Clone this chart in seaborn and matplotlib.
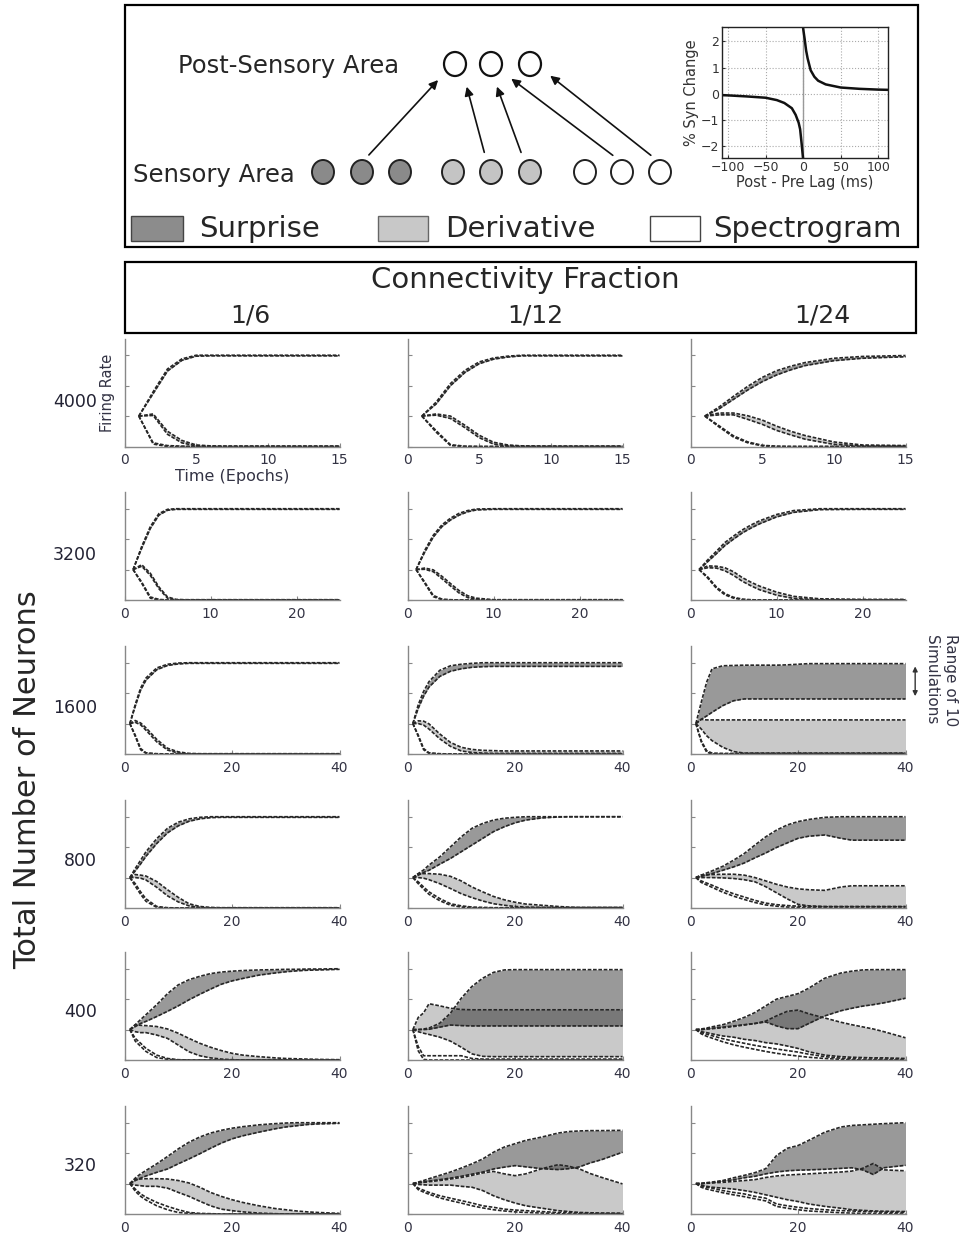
import numpy as np
import matplotlib
matplotlib.use("Agg")
import matplotlib.pyplot as plt
from matplotlib.patches import Rectangle, Ellipse
import seaborn as sns

sns.set_style("ticks")
plt.rcParams['font.family'] = ['DejaVu Sans']

W, H = 963, 1243

# time grids (epochs) for each row
t_4000 = [1, 2, 3, 4, 5, 6, 7, 8, 10, 12, 15]
t_3200 = [1, 2, 3, 4, 5, 6, 7, 8, 10, 12, 15, 20, 25]
t_long = [1, 2, 3, 4, 6, 8, 10, 12, 14, 16, 18, 20, 22, 25, 28, 30, 32, 34, 36, 40]

neurons = ["4000", "3200", "1600", "800", "400", "320"]
fractions = ["1/6", "1/12", "1/24"]

# each panel: [surprise lo, surprise hi, derivative lo, derivative hi, spectrogram lo, spectrogram hi]
p4000_6 = [
    [1, 1.74, 2.48, 2.83, 2.97, 2.98, 2.98, 2.98, 2.98, 2.98, 2.98],
    [1, 1.80, 2.55, 2.88, 3.00, 3.00, 3.00, 3.00, 3.00, 3.00, 3.00],
    [1, 1.02, 0.40, 0.12, 0.02, 0.00, 0.00, 0.00, 0.00, 0.00, 0.00],
    [1, 1.07, 0.50, 0.20, 0.05, 0.02, 0.01, 0.01, 0.01, 0.01, 0.01],
    [1, 0.08, 0.00, 0.00, 0.00, 0.00, 0.00, 0.00, 0.00, 0.00, 0.00],
    [1, 0.12, 0.03, 0.01, 0.00, 0.00, 0.00, 0.00, 0.00, 0.00, 0.00],
]
p4000_12 = [
    [1, 1.40, 2.00, 2.43, 2.72, 2.87, 2.94, 2.98, 2.98, 2.98, 2.98],
    [1, 1.46, 2.07, 2.50, 2.78, 2.91, 2.97, 3.00, 3.00, 3.00, 3.00],
    [1, 1.03, 0.92, 0.62, 0.29, 0.08, 0.02, 0.00, 0.00, 0.00, 0.00],
    [1, 1.07, 1.00, 0.70, 0.37, 0.14, 0.05, 0.02, 0.01, 0.01, 0.01],
    [1, 0.47, 0.03, 0.00, 0.00, 0.00, 0.00, 0.00, 0.00, 0.00, 0.00],
    [1, 0.52, 0.06, 0.01, 0.00, 0.00, 0.00, 0.00, 0.00, 0.00, 0.00],
]
p4000_24 = [
    [1, 1.24, 1.55, 1.86, 2.13, 2.35, 2.52, 2.66, 2.82, 2.90, 2.95],
    [1, 1.30, 1.65, 1.98, 2.27, 2.49, 2.64, 2.76, 2.90, 2.96, 2.99],
    [1, 1.04, 1.04, 0.89, 0.73, 0.53, 0.38, 0.24, 0.07, 0.02, 0.01],
    [1, 1.10, 1.10, 1.01, 0.87, 0.67, 0.50, 0.36, 0.15, 0.05, 0.03],
    [1, 0.64, 0.31, 0.12, 0.02, 0.00, 0.00, 0.00, 0.00, 0.00, 0.00],
    [1, 0.68, 0.35, 0.15, 0.04, 0.01, 0.00, 0.00, 0.00, 0.00, 0.00],
]

p3200_6 = [
    [1, 1.70, 2.35, 2.79, 2.95, 2.98, 2.98, 2.98, 2.98, 2.98, 2.98, 2.98, 2.98],
    [1, 1.76, 2.41, 2.84, 2.98, 3.00, 3.00, 3.00, 3.00, 3.00, 3.00, 3.00, 3.00],
    [1, 1.11, 0.81, 0.37, 0.06, 0.00, 0.00, 0.00, 0.00, 0.00, 0.00, 0.00, 0.00],
    [1, 1.16, 0.88, 0.43, 0.10, 0.02, 0.01, 0.01, 0.01, 0.01, 0.01, 0.01, 0.01],
    [1, 0.55, 0.06, 0.00, 0.00, 0.00, 0.00, 0.00, 0.00, 0.00, 0.00, 0.00, 0.00],
    [1, 0.59, 0.10, 0.02, 0.00, 0.00, 0.00, 0.00, 0.00, 0.00, 0.00, 0.00, 0.00],
]
p3200_12 = [
    [1, 1.57, 2.07, 2.41, 2.63, 2.79, 2.90, 2.96, 2.98, 2.98, 2.98, 2.98, 2.98],
    [1, 1.63, 2.13, 2.47, 2.69, 2.85, 2.94, 2.99, 3.00, 3.00, 3.00, 3.00, 3.00],
    [1, 1.01, 0.93, 0.70, 0.46, 0.23, 0.08, 0.02, 0.00, 0.00, 0.00, 0.00, 0.00],
    [1, 1.05, 0.99, 0.78, 0.54, 0.31, 0.14, 0.06, 0.01, 0.01, 0.01, 0.01, 0.01],
    [1, 0.55, 0.11, 0.01, 0.00, 0.00, 0.00, 0.00, 0.00, 0.00, 0.00, 0.00, 0.00],
    [1, 0.59, 0.15, 0.03, 0.01, 0.00, 0.00, 0.00, 0.00, 0.00, 0.00, 0.00, 0.00],
]
p3200_24 = [
    [1, 1.26, 1.52, 1.79, 2.00, 2.20, 2.36, 2.50, 2.73, 2.88, 2.97, 2.98, 2.98],
    [1, 1.32, 1.60, 1.89, 2.10, 2.30, 2.46, 2.60, 2.81, 2.94, 3.00, 3.00, 3.00],
    [1, 1.06, 1.05, 0.96, 0.81, 0.62, 0.47, 0.34, 0.16, 0.05, 0.01, 0.00, 0.00],
    [1, 1.12, 1.11, 1.06, 0.93, 0.74, 0.59, 0.46, 0.26, 0.12, 0.04, 0.02, 0.02],
    [1, 0.72, 0.39, 0.17, 0.06, 0.01, 0.00, 0.00, 0.00, 0.00, 0.00, 0.00, 0.00],
    [1, 0.76, 0.43, 0.21, 0.09, 0.03, 0.01, 0.00, 0.00, 0.00, 0.00, 0.00, 0.00],
]

p1600_6 = [
    [1, 1.57, 2.10, 2.43, 2.77, 2.91, 2.96, 2.98, 2.98, 2.98, 2.98, 2.98, 2.98, 2.98, 2.98, 2.98, 2.98, 2.98, 2.98, 2.98],
    [1, 1.63, 2.17, 2.50, 2.83, 2.95, 2.99, 3.00, 3.00, 3.00, 3.00, 3.00, 3.00, 3.00, 3.00, 3.00, 3.00, 3.00, 3.00, 3.00],
    [1, 1.04, 0.96, 0.78, 0.40, 0.13, 0.03, 0.00, 0.00, 0.00, 0.00, 0.00, 0.00, 0.00, 0.00, 0.00, 0.00, 0.00, 0.00, 0.00],
    [1, 1.10, 1.02, 0.86, 0.48, 0.19, 0.07, 0.02, 0.01, 0.01, 0.01, 0.01, 0.01, 0.01, 0.01, 0.01, 0.01, 0.01, 0.01, 0.01],
    [1, 0.58, 0.14, 0.02, 0.00, 0.00, 0.00, 0.00, 0.00, 0.00, 0.00, 0.00, 0.00, 0.00, 0.00, 0.00, 0.00, 0.00, 0.00, 0.00],
    [1, 0.62, 0.18, 0.04, 0.01, 0.00, 0.00, 0.00, 0.00, 0.00, 0.00, 0.00, 0.00, 0.00, 0.00, 0.00, 0.00, 0.00, 0.00, 0.00],
]
p1600_12 = [
    [1, 1.50, 1.90, 2.20, 2.55, 2.72, 2.80, 2.85, 2.87, 2.88, 2.88, 2.88, 2.88, 2.88, 2.88, 2.88, 2.88, 2.88, 2.88, 2.88],
    [1, 1.62, 2.06, 2.38, 2.75, 2.90, 2.95, 2.98, 3.00, 3.00, 3.00, 3.00, 3.00, 3.00, 3.00, 3.00, 3.00, 3.00, 3.00, 3.00],
    [1, 1.00, 0.95, 0.82, 0.50, 0.25, 0.10, 0.05, 0.03, 0.02, 0.02, 0.02, 0.02, 0.02, 0.02, 0.02, 0.02, 0.02, 0.02, 0.02],
    [1, 1.09, 1.08, 0.99, 0.66, 0.38, 0.22, 0.15, 0.12, 0.11, 0.10, 0.10, 0.10, 0.10, 0.10, 0.10, 0.10, 0.10, 0.10, 0.10],
    [1, 0.58, 0.14, 0.02, 0.00, 0.00, 0.00, 0.00, 0.00, 0.00, 0.00, 0.00, 0.00, 0.00, 0.00, 0.00, 0.00, 0.00, 0.00, 0.00],
    [1, 0.62, 0.18, 0.04, 0.01, 0.00, 0.00, 0.00, 0.00, 0.00, 0.00, 0.00, 0.00, 0.00, 0.00, 0.00, 0.00, 0.00, 0.00, 0.00],
]
p1600_24 = [
    [1, 1.14, 1.25, 1.37, 1.59, 1.75, 1.81, 1.81, 1.81, 1.81, 1.81, 1.81, 1.81, 1.81, 1.81, 1.81, 1.81, 1.81, 1.81, 1.81],
    [1, 1.70, 2.36, 2.80, 2.90, 2.91, 2.92, 2.92, 2.92, 2.92, 2.93, 2.95, 2.97, 2.97, 2.97, 2.97, 2.97, 2.97, 2.97, 2.97],
    [1, 0.82, 0.60, 0.44, 0.22, 0.08, 0.03, 0.03, 0.03, 0.03, 0.03, 0.03, 0.03, 0.03, 0.03, 0.03, 0.03, 0.03, 0.03, 0.03],
    [1, 1.14, 1.12, 1.12, 1.12, 1.12, 1.12, 1.12, 1.12, 1.12, 1.12, 1.12, 1.12, 1.12, 1.12, 1.12, 1.12, 1.12, 1.12, 1.12],
    [1, 0.40, 0.06, 0.00, 0.00, 0.00, 0.00, 0.00, 0.00, 0.00, 0.00, 0.00, 0.00, 0.00, 0.00, 0.00, 0.00, 0.00, 0.00, 0.00],
    [1, 0.44, 0.11, 0.03, 0.02, 0.02, 0.02, 0.02, 0.02, 0.02, 0.02, 0.02, 0.02, 0.02, 0.02, 0.02, 0.02, 0.02, 0.02, 0.02],
]

p800_6 = [
    [1, 1.22, 1.45, 1.70, 2.12, 2.47, 2.70, 2.85, 2.93, 2.97, 2.98, 2.98, 2.98, 2.98, 2.98, 2.98, 2.98, 2.98, 2.98, 2.98],
    [1, 1.30, 1.57, 1.85, 2.28, 2.62, 2.82, 2.93, 2.98, 3.00, 3.00, 3.00, 3.00, 3.00, 3.00, 3.00, 3.00, 3.00, 3.00, 3.00],
    [1, 1.00, 0.98, 0.92, 0.68, 0.40, 0.20, 0.07, 0.02, 0.00, 0.00, 0.00, 0.00, 0.00, 0.00, 0.00, 0.00, 0.00, 0.00, 0.00],
    [1, 1.10, 1.08, 1.05, 0.87, 0.60, 0.35, 0.14, 0.05, 0.02, 0.01, 0.01, 0.01, 0.01, 0.01, 0.01, 0.01, 0.01, 0.01, 0.01],
    [1, 0.72, 0.45, 0.22, 0.02, 0.00, 0.00, 0.00, 0.00, 0.00, 0.00, 0.00, 0.00, 0.00, 0.00, 0.00, 0.00, 0.00, 0.00, 0.00],
    [1, 0.80, 0.53, 0.30, 0.05, 0.01, 0.00, 0.00, 0.00, 0.00, 0.00, 0.00, 0.00, 0.00, 0.00, 0.00, 0.00, 0.00, 0.00, 0.00],
]
p800_12 = [
    [1, 1.08, 1.17, 1.24, 1.44, 1.63, 1.85, 2.07, 2.29, 2.51, 2.67, 2.80, 2.89, 2.96, 2.99, 3.00, 3.00, 3.00, 3.00, 3.00],
    [1, 1.13, 1.25, 1.41, 1.68, 2.01, 2.34, 2.62, 2.78, 2.89, 2.95, 2.98, 3.00, 3.00, 3.00, 3.00, 3.00, 3.00, 3.00, 3.00],
    [1, 1.00, 0.98, 0.93, 0.80, 0.64, 0.47, 0.34, 0.23, 0.14, 0.09, 0.05, 0.03, 0.02, 0.01, 0.01, 0.01, 0.01, 0.01, 0.01],
    [1, 1.13, 1.13, 1.13, 1.11, 1.04, 0.89, 0.69, 0.53, 0.38, 0.27, 0.19, 0.13, 0.09, 0.05, 0.03, 0.02, 0.02, 0.02, 0.02],
    [1, 0.80, 0.62, 0.45, 0.24, 0.09, 0.03, 0.01, 0.00, 0.00, 0.00, 0.00, 0.00, 0.00, 0.00, 0.00, 0.00, 0.00, 0.00, 0.00],
    [1, 0.86, 0.69, 0.53, 0.31, 0.14, 0.07, 0.03, 0.02, 0.01, 0.01, 0.01, 0.01, 0.01, 0.01, 0.01, 0.01, 0.01, 0.01, 0.01],
]
p800_24 = [
    [1, 1.04, 1.08, 1.13, 1.24, 1.35, 1.48, 1.65, 1.81, 1.99, 2.14, 2.29, 2.36, 2.40, 2.29, 2.23, 2.23, 2.23, 2.23, 2.23],
    [1, 1.08, 1.15, 1.22, 1.37, 1.57, 1.79, 2.07, 2.34, 2.56, 2.73, 2.84, 2.91, 2.98, 3.00, 3.00, 3.00, 3.00, 3.00, 3.00],
    [1, 1.00, 1.00, 1.00, 0.99, 0.97, 0.93, 0.86, 0.70, 0.50, 0.30, 0.12, 0.07, 0.05, 0.05, 0.05, 0.05, 0.05, 0.05, 0.05],
    [1, 1.08, 1.09, 1.10, 1.11, 1.11, 1.08, 1.00, 0.89, 0.78, 0.69, 0.63, 0.60, 0.58, 0.69, 0.73, 0.73, 0.73, 0.73, 0.73],
    [1, 0.84, 0.76, 0.68, 0.52, 0.39, 0.28, 0.18, 0.10, 0.06, 0.03, 0.02, 0.01, 0.00, 0.00, 0.00, 0.00, 0.00, 0.00, 0.00],
    [1, 0.89, 0.82, 0.75, 0.60, 0.47, 0.36, 0.25, 0.16, 0.11, 0.08, 0.06, 0.05, 0.04, 0.04, 0.04, 0.04, 0.04, 0.04, 0.04],
]

p400_6 = [
    [1, 1.10, 1.20, 1.27, 1.43, 1.60, 1.78, 1.98, 2.16, 2.33, 2.49, 2.60, 2.68, 2.79, 2.86, 2.90, 2.93, 2.95, 2.96, 2.98],
    [1, 1.16, 1.33, 1.49, 1.82, 2.18, 2.47, 2.64, 2.75, 2.84, 2.89, 2.92, 2.94, 2.96, 2.97, 2.98, 2.98, 2.99, 2.99, 3.00],
    [1, 0.93, 0.90, 0.90, 0.82, 0.71, 0.49, 0.27, 0.14, 0.07, 0.03, 0.01, 0.00, 0.00, 0.00, 0.00, 0.00, 0.00, 0.00, 0.00],
    [1, 1.16, 1.14, 1.13, 1.10, 1.02, 0.88, 0.71, 0.55, 0.42, 0.31, 0.22, 0.16, 0.11, 0.07, 0.05, 0.04, 0.03, 0.02, 0.01],
    [1, 0.62, 0.45, 0.28, 0.08, 0.02, 0.00, 0.00, 0.00, 0.00, 0.00, 0.00, 0.00, 0.00, 0.00, 0.00, 0.00, 0.00, 0.00, 0.00],
    [1, 0.71, 0.55, 0.38, 0.16, 0.05, 0.01, 0.00, 0.00, 0.00, 0.00, 0.00, 0.00, 0.00, 0.00, 0.00, 0.00, 0.00, 0.00, 0.00],
]
p400_12 = [
    [1, 1.00, 1.00, 1.01, 1.08, 1.15, 1.13, 1.12, 1.12, 1.12, 1.12, 1.12, 1.12, 1.12, 1.12, 1.12, 1.12, 1.12, 1.12, 1.12],
    [1, 1.00, 1.02, 1.05, 1.21, 1.54, 2.03, 2.42, 2.69, 2.88, 2.96, 2.97, 2.97, 2.97, 2.97, 2.97, 2.97, 2.97, 2.97, 2.97],
    [1, 0.93, 0.88, 0.84, 0.75, 0.62, 0.42, 0.20, 0.12, 0.11, 0.11, 0.11, 0.11, 0.11, 0.11, 0.11, 0.11, 0.11, 0.11, 0.11],
    [1, 1.40, 1.55, 1.85, 1.78, 1.70, 1.66, 1.65, 1.65, 1.65, 1.65, 1.65, 1.65, 1.65, 1.65, 1.65, 1.65, 1.65, 1.65, 1.65],
    [1, 0.30, 0.02, 0.00, 0.00, 0.00, 0.00, 0.00, 0.00, 0.00, 0.00, 0.00, 0.00, 0.00, 0.00, 0.00, 0.00, 0.00, 0.00, 0.00],
    [1, 0.44, 0.14, 0.14, 0.14, 0.14, 0.14, 0.05, 0.03, 0.03, 0.03, 0.03, 0.03, 0.03, 0.03, 0.03, 0.03, 0.03, 0.03, 0.03],
]
p400_24 = [
    [1, 1.00, 1.02, 1.04, 1.08, 1.12, 1.16, 1.20, 1.25, 1.12, 1.03, 1.03, 1.20, 1.45, 1.62, 1.70, 1.77, 1.82, 1.88, 2.03],
    [1, 1.02, 1.05, 1.09, 1.16, 1.27, 1.40, 1.56, 1.78, 2.00, 2.09, 2.18, 2.36, 2.69, 2.86, 2.92, 2.96, 2.97, 2.97, 2.97],
    [1, 0.93, 0.90, 0.86, 0.79, 0.75, 0.68, 0.64, 0.57, 0.53, 0.46, 0.38, 0.27, 0.16, 0.11, 0.09, 0.08, 0.07, 0.07, 0.05],
    [1, 1.00, 1.02, 1.03, 1.06, 1.10, 1.15, 1.20, 1.28, 1.45, 1.60, 1.64, 1.52, 1.38, 1.24, 1.16, 1.09, 1.02, 0.93, 0.73],
    [1, 0.86, 0.78, 0.72, 0.60, 0.50, 0.42, 0.35, 0.28, 0.22, 0.17, 0.13, 0.09, 0.05, 0.02, 0.01, 0.00, 0.00, 0.00, 0.00],
    [1, 0.90, 0.85, 0.80, 0.70, 0.62, 0.55, 0.48, 0.42, 0.36, 0.31, 0.26, 0.19, 0.11, 0.06, 0.04, 0.03, 0.03, 0.03, 0.03],
]

p320_6 = [
    [1, 1.10, 1.18, 1.25, 1.37, 1.48, 1.65, 1.81, 1.98, 2.16, 2.33, 2.47, 2.57, 2.69, 2.80, 2.86, 2.90, 2.94, 2.96, 2.98],
    [1, 1.18, 1.32, 1.43, 1.65, 1.89, 2.14, 2.36, 2.53, 2.66, 2.75, 2.82, 2.87, 2.93, 2.97, 2.99, 3.00, 3.00, 3.00, 3.00],
    [1, 0.95, 0.93, 0.91, 0.91, 0.85, 0.71, 0.58, 0.42, 0.27, 0.16, 0.11, 0.07, 0.03, 0.01, 0.00, 0.00, 0.00, 0.00, 0.00],
    [1, 1.15, 1.15, 1.16, 1.16, 1.15, 1.10, 1.02, 0.88, 0.71, 0.58, 0.47, 0.38, 0.27, 0.18, 0.14, 0.10, 0.07, 0.05, 0.02],
    [1, 0.75, 0.58, 0.46, 0.27, 0.14, 0.05, 0.02, 0.00, 0.00, 0.00, 0.00, 0.00, 0.00, 0.00, 0.00, 0.00, 0.00, 0.00, 0.00],
    [1, 0.82, 0.66, 0.55, 0.38, 0.25, 0.14, 0.05, 0.02, 0.01, 0.00, 0.00, 0.00, 0.00, 0.00, 0.00, 0.00, 0.00, 0.00, 0.00],
]
p320_12 = [
    [1, 1.03, 1.05, 1.08, 1.13, 1.18, 1.24, 1.31, 1.38, 1.48, 1.54, 1.59, 1.55, 1.49, 1.46, 1.49, 1.55, 1.68, 1.78, 2.03],
    [1, 1.05, 1.10, 1.16, 1.27, 1.38, 1.51, 1.65, 1.81, 2.03, 2.20, 2.31, 2.42, 2.53, 2.66, 2.71, 2.73, 2.74, 2.74, 2.75],
    [1, 0.97, 0.96, 0.95, 0.95, 0.95, 0.91, 0.88, 0.77, 0.60, 0.47, 0.36, 0.27, 0.19, 0.11, 0.08, 0.05, 0.04, 0.03, 0.02],
    [1, 1.02, 1.04, 1.06, 1.10, 1.15, 1.20, 1.27, 1.35, 1.40, 1.32, 1.26, 1.32, 1.49, 1.62, 1.57, 1.48, 1.33, 1.21, 0.99],
    [1, 0.80, 0.72, 0.65, 0.53, 0.44, 0.36, 0.27, 0.20, 0.14, 0.10, 0.07, 0.05, 0.03, 0.01, 0.00, 0.00, 0.00, 0.00, 0.00],
    [1, 0.85, 0.78, 0.71, 0.60, 0.52, 0.44, 0.36, 0.27, 0.22, 0.16, 0.13, 0.11, 0.08, 0.05, 0.04, 0.03, 0.02, 0.02, 0.02],
]
p320_24 = [
    [1, 1.00, 1.02, 1.03, 1.08, 1.12, 1.19, 1.24, 1.32, 1.38, 1.42, 1.44, 1.45, 1.47, 1.50, 1.52, 1.45, 1.30, 1.52, 1.60],
    [1, 1.01, 1.03, 1.05, 1.10, 1.19, 1.27, 1.36, 1.49, 1.92, 2.16, 2.25, 2.42, 2.69, 2.86, 2.91, 2.93, 2.95, 2.97, 3.00],
    [1, 0.95, 0.91, 0.88, 0.85, 0.82, 0.77, 0.71, 0.63, 0.55, 0.47, 0.41, 0.33, 0.25, 0.19, 0.14, 0.12, 0.10, 0.09, 0.08],
    [1, 1.00, 1.01, 1.02, 1.04, 1.07, 1.10, 1.13, 1.20, 1.25, 1.28, 1.30, 1.32, 1.35, 1.38, 1.41, 1.50, 1.66, 1.45, 1.42],
    [1, 0.88, 0.82, 0.78, 0.70, 0.63, 0.57, 0.50, 0.43, 0.25, 0.19, 0.14, 0.10, 0.07, 0.04, 0.03, 0.02, 0.01, 0.01, 0.00],
    [1, 0.92, 0.88, 0.85, 0.77, 0.71, 0.66, 0.58, 0.52, 0.33, 0.27, 0.22, 0.18, 0.14, 0.11, 0.10, 0.08, 0.07, 0.06, 0.05],
]

panels = [
    [p4000_6, p4000_12, p4000_24],
    [p3200_6, p3200_12, p3200_24],
    [p1600_6, p1600_12, p1600_24],
    [p800_6, p800_12, p800_24],
    [p400_6, p400_12, p400_24],
    [p320_6, p320_12, p320_24],
]
row_times = [t_4000, t_3200, t_long, t_long, t_long, t_long]
row_xmax = [15, 25, 40, 40, 40, 40]
row_xticks = [[0, 5, 10, 15], [0, 10, 20], [0, 20, 40], [0, 20, 40], [0, 20, 40], [0, 20, 40]]

# STDP inset curve
lag_neg = [-110, -100, -75, -50, -35, -25, -15, -10, -6, -4, -2, -1, 0]
syn_neg = [-0.05, -0.06, -0.10, -0.15, -0.24, -0.35, -0.55, -0.80, -1.10, -1.35, -1.90, -2.20, -2.50]
lag_pos = [0, 1, 2, 4, 6, 10, 15, 20, 30, 50, 75, 100, 115]
syn_pos = [2.50, 2.30, 2.10, 1.65, 1.35, 0.90, 0.65, 0.50, 0.36, 0.24, 0.19, 0.16, 0.15]

fig = plt.figure(figsize=(W / 100, H / 100), dpi=100)


def px_axes(left, top, width, height):
    return fig.add_axes([left / W, 1 - (top + height) / H, width / W, height / H])


# background axes in pixel coordinates for the diagram and labels
bg = px_axes(0, 0, W, H)
bg.set_xlim(0, W)
bg.set_ylim(H, 0)
bg.axis('off')

bg.add_patch(Rectangle((125, 5), 793, 242, fill=False, ec='black', lw=1.6))
bg.add_patch(Rectangle((125, 262), 791, 71, fill=False, ec='black', lw=1.6))

bg.text(178, 66, 'Post-Sensory Area', fontsize=17.5, va='center', ha='left')
bg.text(133, 175, 'Sensory Area', fontsize=17.5, va='center', ha='left')

for cx in [455, 491, 530]:
    bg.add_patch(Ellipse((cx, 64), 22, 24, fc='white', ec='#111111', lw=1.6))
for cx, fc in [(323, '#8a8a8a'), (362, '#8a8a8a'), (400, '#8a8a8a'),
               (453, '#c4c4c4'), (491, '#c4c4c4'), (530, '#c4c4c4'),
               (585, 'white'), (622, 'white'), (660, 'white')]:
    bg.add_patch(Ellipse((cx, 172), 22, 24, fc=fc, ec='#222222', lw=1.4))

for tail, head in [((367, 157), (440, 78)), ((485, 155), (466, 84)),
                   ((522, 155), (496, 84)), ((615, 157), (509, 77)),
                   ((653, 157), (548, 74))]:
    bg.annotate('', xy=head, xytext=tail,
                arrowprops=dict(arrowstyle='-|>', color='#111111', lw=1.2, mutation_scale=13))

bg.add_patch(Rectangle((131, 216), 52, 25, fc='#8c8c8c', ec='#444444', lw=1))
bg.add_patch(Rectangle((378, 216), 50, 25, fc='#c8c8c8', ec='#666666', lw=1))
bg.add_patch(Rectangle((650, 216), 50, 25, fc='white', ec='#444444', lw=1))
bg.text(199, 229, 'Surprise', fontsize=21, va='center')
bg.text(445, 229, 'Derivative', fontsize=21, va='center')
bg.text(713, 229, 'Spectrogram', fontsize=21, va='center')

bg.text(525, 280, 'Connectivity Fraction', fontsize=21, ha='center', va='center')
for cx, lab in zip([250, 535, 822], fractions):
    bg.text(cx, 315, lab, fontsize=18, ha='center', va='center')

bg.text(28, 780, 'Total Number of Neurons', fontsize=22, rotation=90, ha='center', va='center')
for cy, lab in zip([402, 555, 708, 861, 1012, 1166], neurons):
    bg.text(97, cy, lab, fontsize=12.5, ha='right', va='center', color='#222233')

# inset: STDP curve
axi = px_axes(722, 27, 166, 131)
axi.grid(True, ls=':', color='#aaaaaa', lw=0.8)
axi.axvline(0, color='#999999', lw=1)
sns.lineplot(x=lag_neg, y=syn_neg, ax=axi, color='#111111', lw=1.8)
sns.lineplot(x=lag_pos, y=syn_pos, ax=axi, color='#111111', lw=1.8)
axi.set_xlim(-108, 113)
axi.set_ylim(-2.45, 2.55)
axi.set_xticks([-100, -50, 0, 50, 100])
axi.set_yticks([-2, -1, 0, 1, 2])
axi.tick_params(direction='in', length=2, labelsize=9, pad=2, colors='#333333')
for s in axi.spines.values():
    s.set_color('#222222')
    s.set_linewidth(1.0)
axi.set_xlabel('Post - Pre Lag (ms)', fontsize=10.5, labelpad=1, color='#333333')
axi.set_ylabel('% Syn Change', fontsize=10.5, labelpad=1, color='#333333')

# grid of simulation panels
col_left = [124.5, 407.5, 690.5]
row_base = [446.5, 600, 754, 908, 1060, 1214]
ax_h = 108
line_kw = dict(color='#262626', lw=1.2, linestyle=(0, (2.2, 1.0)))

for r in range(6):
    t = row_times[r]
    for c in range(3):
        ax = px_axes(col_left[c], row_base[r] - ax_h, 215, ax_h)
        sur_lo, sur_hi, der_lo, der_hi, spe_lo, spe_hi = panels[r][c]
        ax.fill_between(t, sur_lo, sur_hi, color='black', alpha=0.4, lw=0)
        ax.fill_between(t, der_lo, der_hi, color='black', alpha=0.21, lw=0)
        ax.fill_between(t, spe_lo, spe_hi, color='white', alpha=0.6, lw=0)
        for curve in panels[r][c]:
            sns.lineplot(x=t, y=curve, ax=ax, **line_kw)
        ax.set_xlim(0, row_xmax[r])
        ax.set_ylim(0, 3.55)
        ax.set_xticks(row_xticks[r])
        ax.set_yticks([0, 1, 2, 3])
        ax.set_yticklabels([])
        ax.tick_params(direction='in', length=3, width=0.8, color='#888888',
                       labelsize=10, labelcolor='#333344', pad=5)
        sns.despine(ax=ax)
        for s in ['left', 'bottom']:
            ax.spines[s].set_color('#888888')
            ax.spines[s].set_linewidth(1.0)
        ax.set_xlabel('')
        ax.set_ylabel('')
        if r == 0 and c == 0:
            ax.set_xlabel('Time (Epochs)', fontsize=11.5, labelpad=1, color='#333344')
            ax.set_ylabel('Firing Rate', fontsize=10.5, labelpad=2, color='#333344')
        if r == 2 and c == 2:
            ax.annotate('', xy=(41.8, sur_hi[-1]), xytext=(41.8, sur_lo[-1]),
                        arrowprops=dict(arrowstyle='<|-|>', color='#333333', lw=1, mutation_scale=7),
                        annotation_clip=False)
            ax.text(46.6, 2.43, 'Range of 10\nSimulations', rotation=270, fontsize=11,
                    ha='center', va='center', color='#333344', linespacing=1.3,
                    clip_on=False)

fig.savefig('out.png', dpi=100)
